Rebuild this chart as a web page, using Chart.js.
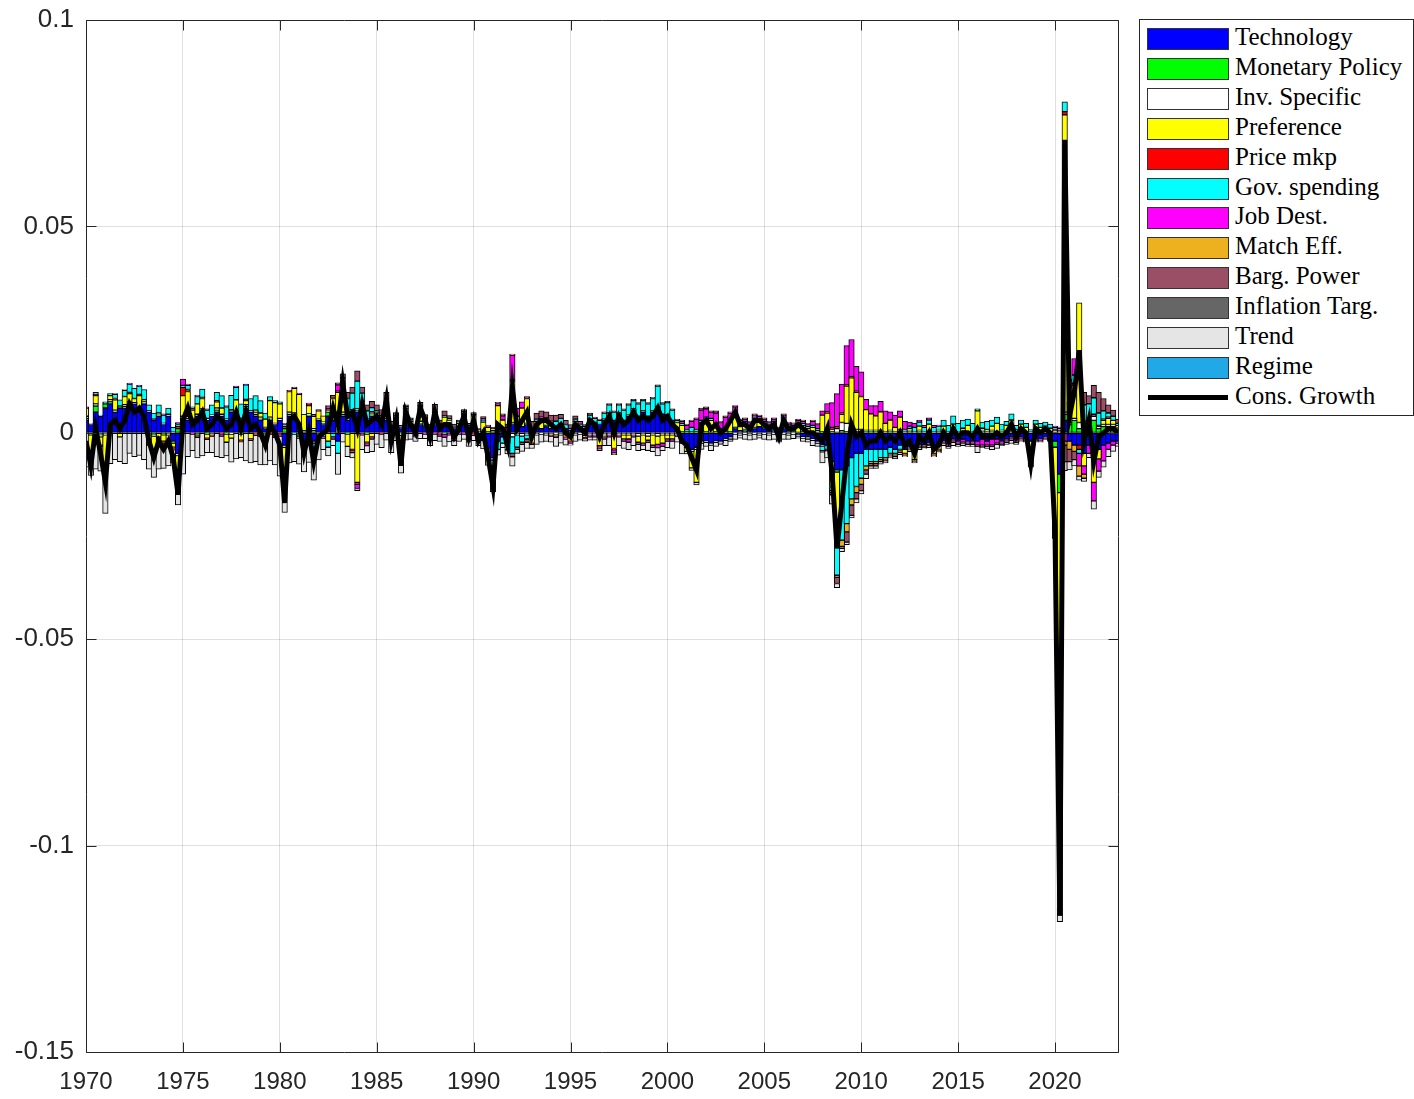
<!DOCTYPE html>
<html>
<head>
<meta charset="utf-8">
<title>Historical decomposition of consumption growth</title>
<script src="https://cdn.jsdelivr.net/npm/chart.js@4.4.1/dist/chart.umd.min.js"></script>
<style>
  html, body { margin: 0; padding: 0; background: #ffffff; }
  #wrap { position: relative; width: 1414px; height: 1099px; overflow: hidden; background: #ffffff; }
  #chart { position: absolute; left: 0; top: 0; }
  #legend {
    position: absolute; left: 1139px; top: 19px; width: 275px; height: 397px;
    box-sizing: border-box; border: 1px solid #262626; background: #ffffff;
    font-family: 'Liberation Serif', 'Times New Roman', serif; font-size: 25px; color: #000000;
  }
  #legend .sw { position: absolute; left: 7px; width: 82px; height: 22px; box-sizing: border-box; border: 1px solid #333333; }
  #legend .ln { position: absolute; left: 8px; width: 80px; height: 5px; background: #000000; }
  #legend .lbl { position: absolute; left: 95px; height: 30px; line-height: 30px; white-space: nowrap; }
</style>
</head>
<body>
<div id="wrap">
  <canvas id="chart" width="1414" height="1099"></canvas>
  <div id="legend"></div>
</div>
<script>
// Quarterly shock decomposition of consumption growth, 1970Q1 - 2023Q2.
// All contributions below are listed in thousandths (x 1e-3).
const FIRST_YEAR = 1970;
const PER_YEAR = 4;
const UNIT = 1e-3;

const consGrowth = [
  -2, -8, 1, -5,       // 1970
  -12, 2, 3, 1,
  3, 7, 5, 6,
  4, -2, -6, -2,
  -4, -2, -6, -15,
  3, 6, 2, 3,          // 1975
  5, 1, 2, 4,
  3, 1, 2, 5,
  1, 5, 1, 2,
  0, -3, 2, 0,
  -3, -17, 3, 4,       // 1980
  2, -5, 0, -7,
  -1, 0, 1, 6,
  2, 12, 4, 5,
  1, 7, 2, 3,
  4, 2, 8, -2,         // 1985
  3, -8, 5, 2,
  0, 6, 3, -1,
  5, 1, 2, 2,
  -1, 1, 4, -1,
  3, -2, 0, -6,        // 1990
  -13, 2, 1, -3,
  11, 1, 3, 5,
  -1, 2, 3, 3,
  2, 1, 2, 0,
  -1, 2, 1, 0,         // 1995
  3, 2, -1, 2,
  4, 0, 4, 2,
  3, 5, 3, 4,
  3, 4, 6, 3,
  4, 2, 1, -2,         // 2000
  -3, -6, -9, 2,
  3, 1, 2, 0,
  1, 3, 5, 2,
  2, 1, 3, 3,
  2, 1, 2, -1,         // 2005
  3, 1, 1, 2,
  1, 0, 0, -1,
  -2, 1, -10, -28,
  -17, -6, 2, -1,
  0, -3, -2, -2,       // 2010
  0, -2, -1, -2,
  0, -3, -2, -5,
  -1, -2, 0, -4,
  -3, 0, -2, 1,
  -1, 0, 0, -1,        // 2015
  1, -1, -1, -1,
  0, -1, 0, 2,
  -1, 1, 0, -7.5,
  1, 0, 1, 0,
  -24, -117, 71, 4,    // 2020
  10, 20, -2, 3,
  -7, -1, 0, 1,
  1, 0                 // 2023
];

const technology = [
  3, 2, 5, 4,          // 1970
  6, 7, 5, 6,
  6, 6.5, 7, 5,
  7, 5, 3, 4,
  2, 4, -2, -5,
  2, 3, 3.2, 4,        // 1975
  5, 3, 4, 5,
  4, 3, 5, 4,
  3, 6, 5, 4,
  3, 1, 3, 2,
  3, -3, 4, 4,         // 1980
  2, -4, 4, -2,
  3, 2, 4, 3,
  -2, 4, 3, 5,
  5, 6, 3, 4,
  3, 2, 3, 1,          // 1985
  2, 1, 2, 1.5,
  1, 2, 1.5, 1,
  2, 1, 2, 1.5,
  1, 1.5, 2, 1,
  1, -1, -1.5, -4,     // 1990
  -6, -2, -1, -1.5,
  2, 1, 1.5, 2,
  0.5, 1, 1, 1.5,
  1, 1, 1.5, 1,
  0.5, 1.5, 1, 1,      // 1995
  2, 2.5, 2, 3,
  3.5, 3, 4, 3,
  4, 5, 4, 5,
  4, 5, 6, 4.5,
  4, 3, 1, -2,         // 2000
  -3, -4, -3.5, -2,
  -2, -2.5, -2, -2,
  -1.5, -1, 1, 0.5,
  0.5, 0.5, 1, 1.5,
  1, 1, 0.5, 0.5,      // 2005
  1, 0.5, 0, -0.5,
  -1, -1, -1.5, -2,
  -3, -3, -7, -9,
  -9, -8, -6, -5,
  -5, -4, -4, -4,      // 2010
  -4, -4, -3.5, -4,
  -3, -4, -3.5, -4,
  -3, -3, -2.5, -3,
  -2.5, -2, -2, -1.5,
  -2, -1.5, -2, -2,    // 2015
  -2, -1.5, -2, -1.5,
  -1.5, -2, -1.5, -1,
  -1.5, -1, -1.5, -2,
  -1, -1.5, -1, -1.5,
  -2, -10, 3, -2,      // 2020
  -3, -3, -5, -3,
  -4, -4, -3, -2.5,
  -2, -2
];

const monetaryPolicy = [
  0.5, -0.5, 1.5, -0.5,  // 1970
  1, 0.5, 0, 0.5,
  0.3, 0.5, 0, 0.5,
  0, -0.5, -0.5, 0.3,
  -0.5, 0, -0.5, 1,
  1.5, 0.5, 0, -0.5,     // 1975
  0.3, -0.3, 0, 0.5,
  0, -0.3, 0.3, 0.5,
  -0.3, 0.3, 0, 0.5,
  0.3, -0.5, 0.3, -0.3,
  0, 1, 0.5, 0.3,        // 1980
  -0.5, 0.5, 0.3, 0.5,
  -0.5, 0.3, 1, 1,
  0.5, 0.5, -0.3, 0.3,
  0.3, 0.3, -0.3, 0.3,
  0.3, 0, 0.5, -0.3,     // 1985
  0.3, -0.3, 0.3, 0,
  -0.3, 0.3, 0, -0.3,
  0.3, 0, -0.3, 0.3,
  -0.3, 0, 0.3, -0.3,
  0.3, 0, 0.3, 0.3,      // 1990
  0.5, 0.3, 0.3, 0.3,
  0.5, 0.3, 0, 0.3,
  0, 0.3, 0, 0.3,
  0, 0.3, 0, -0.3,
  0, 0.3, 0, -0.3,       // 1995
  0.3, 0, -0.3, 0.3,
  0.3, 0, 0.3, 0,
  0.3, 0.3, 0, 0.3,
  0, 0.3, 0.3, 0,
  0.3, 0, 0, 0.3,        // 2000
  0.3, 0.3, 0.3, 0.5,
  0.3, 0, 0.3, 0,
  0.3, 0.3, 0.3, 0,
  0.3, 0, 0.3, 0,
  0.3, 0, 0.3, -0.3,     // 2005
  0.3, 0, 0.3, 0,
  0.3, 0, 0.3, 0,
  0.3, 0.3, 0.3, -0.5,
  0.5, 0.3, 0.3, 0.3,
  0.3, 0.3, 0.3, 0.3,    // 2010
  0.3, 0, 0.3, 0,
  0.3, 0, 0.3, 0,
  0.3, 0, 0.3, 0,
  0.3, 0.3, 0, 0.3,
  0, 0.3, 0, 0,          // 2015
  0, 0.3, 0, 0.3,
  0, 0.3, 0, 0.3,
  0, 0.3, 0, 0,
  0.3, 0, 0.3, 0,
  -1.5, -4.5, 1.5, 2,    // 2020
  3, 1, 2, 1,
  3, 1, 1.5, 1.5,
  1.5, 1
];

const invSpecific = [
  0.5, 0.3, 0.5, -0.5,   // 1970
  -0.5, 0.5, 0.5, 0,
  0.5, 0.5, 0.3, 0.5,
  0.5, 0.3, -0.3, 0.5,
  0.3, 0.5, 0.3, -0.5,
  0.5, 0.5, 0.3, 0.5,    // 1975
  0.5, 0.5, 0.3, 0.5,
  0.5, 0.3, -0.3, 0.5,
  0.5, 0.5, 0.3, 0.5,
  0.5, 0.3, 0.5, 0.3,
  0.5, -0.5, 0.5, 0.5,   // 1980
  0.3, 0, 0.3, 0.5,
  0.3, 0.3, 0.5, 0.3,
  0.3, 0.5, 0.3, 0.3,
  0.5, 0.3, 0.3, 0.5,
  0.5, 0.3, 0.5, 0.3,    // 1985
  0.3, -0.3, 0.5, 0.3,
  0.3, 0.5, 0.3, -0.3,
  0.3, 0.3, 0.3, 0.3,
  -0.3, 0.3, 0.3, 0.3,
  0.3, 0.3, 0.3, -0.3,   // 1990
  -0.3, 0.8, 0.3, -0.3,
  -1, -0.5, -0.8, -0.5,
  -0.5, -0.5, -0.3, -0.5,
  -0.5, -0.3, -0.5, -0.5,
  -0.5, -0.5, -0.3, -0.3, // 1995
  -0.5, -0.5, -0.8, -0.5,
  -0.5, -0.8, -0.5, -0.5,
  -0.5, -0.5, -0.8, -0.5,
  -0.8, -0.5, -0.8, -0.5,
  -0.5, -0.5, -0.5, -0.5, // 2000
  -0.5, -0.5, -0.5, -0.5,
  -0.3, -0.5, -0.3, -0.5,
  -0.3, -0.5, -0.3, -0.5,
  -0.3, -0.5, -0.3, -0.5,
  -0.3, -0.5, -0.3, -0.5, // 2005
  -0.3, -0.5, -0.3, -0.3,
  -0.3, -0.5, -0.3, -0.5,
  -0.3, 0.5, 0.5, 1,
  2, 2, 1, 0.5,
  0.5, 0.3, 0.3, 0.3,    // 2010
  0.3, 0.3, 0.3, 0.3,
  0.5, 0.3, 0.3, 0.3,
  0.3, 0.3, 0.3, 0.3,
  0.3, 0.3, 0.3, 0.3,
  0.3, 0.3, 0.3, 0.3,    // 2015
  0.3, 0.3, 0.3, 0.3,
  0.3, 0.3, 0.3, 0.3,
  0.3, 0.3, 0.3, 0.3,
  0.3, 0.3, 0.3, 0.3,
  0.5, 0.3, 0.5, 0.5,    // 2020
  0.5, 1.5, 0.5, 0.5,
  1, 0.5, 0.5, 0.5,
  0.5, 0.3
];

const preference = [
  2, -4, 2, -2,          // 1970
  -8, 1, 2.5, -1,
  2, 2, 1, 3,
  0.5, -2, -3.5, -1,
  -1.5, -0.5, -1, -4,
  5, 6, 2, 2.5,          // 1975
  2.5, -1, -0.5, 1.5,
  1.5, -2, -1, 3,
  -1.5, 1, -1.5, 0.5,
  1, 2, 4, 5,
  3.5, -6, 5, 6,         // 1980
  7, 4, 2, 3,
  2, 1.5, -2, 4,
  9, 5, -3, -4,
  -12, 1, -2, -1,
  1, 1, 3, -2,           // 1985
  1, -6, 3, 1,
  0, 3.5, 1.5, -1,
  2.5, 0.5, 1.5, 1,
  -0.5, 0.5, 2, -1,
  2.5, 0.5, 2, 1,        // 1990
  0.5, 5.5, 2.5, -0.5,
  10, 2.7, 4.5, 6,
  -2, 1.5, 1.5, 1,
  1, -0.5, 0.5, -0.1,
  -1.5, 1, 0.5, -0.5,    // 1995
  1, 0, -2, -0.5,
  1, -3, 0.5, -1,
  -1, 0.5, -1.5, -2,
  -1, -2.5, -2, -2,
  -1, -1, 1.5, 1.5,      // 2000
  -1, -4, -8, 2,
  3, 3, 1.5, 0.5,
  0.5, 2.5, 3, 1,
  1.5, 0.5, 2, 1.5,
  1, 0.5, 1.5, -1,       // 2005
  2, 1, 1, 2,
  1.5, 1, 1, 0.5,
  4, 4, -6, -17,
  2, 9, 12, 9,
  8, 5, 4, 3.5,          // 2010
  4.5, 2, 2.5, 1,
  3, -1, 0.5, -2.5,
  1, 0, 1.5, -2,
  -1.5, 1, -0.5, 1.5,
  0, 0.5, 1.5, 0,        // 2015
  5, 0.5, 0.5, 1,
  2, 0, 1.5, 2.5,
  0.5, 1.5, 1, -4.5,
  1.5, 1, 1, 0.8,
  -19, -101, 72, 5,      // 2020
  8, 29, -3, 1,
  -8, -2.3, 1, 1.5,
  1, 0.5
];

const priceMkp = [
  0, 0, 0.3, -0.3,       // 1970
  -0.3, 0, 0.3, 0,
  0, 0.3, 0, 0.3,
  0, -0.3, 0.3, -0.5,
  -0.5, 0, -0.3, 0.5,
  2, 0.5, 0.3, -0.3,     // 1975
  0.3, -0.3, 0, 0.3,
  -0.3, 0, 0.3, 0,
  -0.3, 0.3, 0, -0.3,
  -0.5, -0.5, -0.3, -0.5,
  -0.5, 0.5, 0.3, 0,     // 1980
  -0.3, 0, 0.3, -0.5,
  -0.3, 0, 0.3, 0.3,
  0.3, 0.3, 0, -0.3,
  -0.5, 0, -0.3, 0.3,
  0, -0.3, 0.3, -0.3,    // 1985
  0, -0.3, 0, 0,
  -0.3, 0, 0, 0,
  0, -0.3, 0, 0,
  -0.3, 0, 0, -0.3,
  -0.3, -0.3, -0.3, -0.5, // 1990
  -0.3, 0, 0, -0.3,
  0.3, 0, 0, 0,
  -0.3, 0, 0, 0,
  -0.3, 0, 0, -0.3,
  -0.3, 0, 0, 0,         // 1995
  0, 0, -0.3, 0,
  0, -0.3, 0, 0,
  0, 0, 0, 0,
  0, 0, 0, 0,
  0, 0, 0, 0,            // 2000
  0, 0, 0, 0,
  0, 0, 0, 0,
  0, 0, 0, 0,
  0, 0, 0, 0,
  0, 0, 0, 0,            // 2005
  0, 0, 0, 0,
  0, 0, 0, 0,
  0, 0.3, 0.5, 0.5,
  0.3, 0.3, 0.3, 0.3,
  0, 0, 0, 0,            // 2010
  0, 0, 0, 0,
  0, 0, 0, 0,
  0, 0, 0, 0,
  0, 0, 0, 0,
  0, 0, 0, 0,            // 2015
  0, 0, 0, 0,
  0, 0, 0, 0,
  0, 0, 0, 0,
  0, 0, 0, 0,
  0.3, 0.3, 0.8, 0.5,    // 2020
  0.5, -1, 0.3, 0.5,
  0.5, 0.3, 0.3, 0.3,
  0, 0
];

const govSpending = [
  0, -0.3, 0.5, 0.3,     // 1970
  0.5, 0.5, 1, 1.5,
  1.5, 2, 2.5, 2,
  2.5, 1.5, 1.5, 2,
  2, 1.5, 1, 0.5,
  0.5, 1, 0.5, 1.8,      // 1975
  2, 2, 2.5, 2,
  3, 3, 3.5, 3,
  3.5, 3.5, 3, 3.5,
  3, 1.5, 1, 0.5,
  0.5, 0.5, -0.5, -0.3,  // 1980
  -0.5, -1, -0.5, -1,
  -0.5, -1, -1.5, -1,
  -3, 2, 5, 4,
  6.7, 2, 2, 1,
  0.5, 0.5, 1, 0.5,      // 1985
  0.5, 0.3, 0.5, 0.3,
  0.3, 0.3, 0.3, 0.3,
  0.3, 0.3, 0.3, 0.3,
  0.3, 0.3, 0.5, 0.5,
  0.3, -0.3, 0.5, -1.5,  // 1990
  -5, -2, -1.5, -1.5,
  -4, -3, -1.5, -1,
  0.5, 0.5, 1, 0.5,
  0.5, 1.5, 1.5, 1,
  0.5, 0.5, 0.5, 0.5,    // 1995
  1, 1, 1, 1.5,
  2, 2, 2, 2.5,
  2.5, 2, 3, 2.5,
  3, 3, 5, 2.5,
  3, 2.5, 0.5, 0.5,      // 2000
  0.5, 1, 0.5, 0.5,
  0.5, 0.5, 0.5, 0.5,
  0.5, 0.5, 0.5, 0.5,
  0.5, 0.5, 0.5, 0.5,
  0.5, 0.5, 0.5, 0.5,    // 2005
  0.5, 0.5, 0.5, 0.5,
  0.5, 0.5, 0.5, 0.5,
  -1, -1, -1, -8,
  -17, -14, -10, -8,
  -6, -4, -3, -3,        // 2010
  -2, -2, -1.5, -1,
  -1, 0.5, 0.5, 1,
  1, 1, 1, 1,
  1, 1.5, 1.5, 2,
  2, 2, 1.5, 2,          // 2015
  0.5, 1.5, 2, 1.5,
  1.5, 1.5, 1, 1.5,
  1, 1, 1, 0.5,
  1, 1, 1, 1,
  0.5, 0.5, 2.4, 3,      // 2020
  2, -1, 4, 4,
  4, 3, 2, 1,
  1, 0.5
];

const jobDest = [
  0.3, 0, 0, 0,          // 1970
  -0.3, 0, 0.2, 0,
  0, 0.2, 0, 0.2,
  0, -0.2, 0, 0,
  0.3, 0, -0.3, 0.5,
  1.5, 0.3, -0.3, 0.3,   // 1975
  0, 0.3, -0.3, 0,
  -0.5, 0.3, 0, 0.3,
  0, 0.2, -0.3, 0,
  -0.3, -0.5, 0, -0.3,
  -0.3, 0.3, 0, 0.2,     // 1980
  0.3, 0, 0.3, 0.5,
  0.3, -0.3, 0.5, -0.5,
  1.5, 1, 0, -0.5,
  -1, -0.5, -0.5, -0.5,
  0, 0.3, 0, 0,          // 1985
  0, -0.3, 0, 0,
  -0.3, 0, -0.3, -0.3,
  -0.3, -0.5, -0.8, -0.5,
  -0.5, -0.3, -0.3, -0.5,
  -0.3, -0.3, 0.3, 0.3,  // 1990
  0.3, 0.5, 1, 1,
  6, 2, 1.5, 0.5,
  0.3, 0, 0.3, 0.3,
  0.3, -0.3, 0, -0.3,
  -0.3, 0, 0.3, -0.3,    // 1995
  -0.5, -0.5, -0.5, -0.5,
  -0.5, -0.8, -0.5, -0.5,
  -0.8, -0.5, -0.5, -0.5,
  -0.5, -0.5, -0.8, -0.8,
  -0.5, -0.5, -0.3, 0.5, // 2000
  1, 1.5, 2.5, 2.5,
  2, 1.5, 2.5, 1.5,
  2.5, 1.5, 1.5, 1,
  0.5, 1, 0.5, 0.5,
  0.5, 0.5, 0.5, -0.3,   // 2005
  0.5, 0.3, 0.3, 0.5,
  0.5, 0.5, 1, 1,
  1, 2, 6, 8,
  7, 9.5, 9, 6,
  6, 2.5, 2, 2.5,        // 2010
  2.5, 3, 2, 3,
  1.5, 2, 1, 1,
  0.5, 0.5, 0.5, 0.5,
  0.3, -0.3, -0.5, -0.5,
  -0.5, -0.8, -0.5, -0.5, // 2015
  -1, -1.5, -1, -1.5,
  -1, -0.5, -0.5, -0.5,
  -0.5, -0.5, -0.3, -1,
  -0.5, -0.3, -0.3, -0.3,
  0.3, 0.3, -2, 2,       // 2020
  4, -3, -2, -2,
  -4.5, -3, -3.8, -1.5,
  -1, -0.5
];

const matchEff = [
  0, 0, 0, 0,            // 1970
  0, 0, 0, 0,
  0.2, 0, 0, 0,
  0, 0, 0, 0,
  0, 0, 0, 0,
  0, 0, 0, 0,            // 1975
  0, 0, 0, 0,
  0, 0, 0, 0,
  0, 0, 0, 0,
  0, 0, 0, 0,
  0, 0, 0, 0,            // 1980
  0, 0, 0, 0,
  0, 0, 0, 0,
  0, 0, 0, 0,
  0, 0, 0, 0,
  0, 0, 0, 0,            // 1985
  0, 0, 0, 0,
  0, 0, 0, 0,
  0, 0, 0, 0,
  0, 0, 0, 0,
  0, 0, 0, 0,            // 1990
  0, 0, 0, 0,
  0.3, 0, 0, 0,
  0, 0, 0, 0,
  0, 0, 0, 0,
  0, 0, 0, 0,            // 1995
  0, 0, 0, 0,
  0, 0, 0, 0,
  0, 0, 0, 0,
  0, 0, 0, 0,
  0, 0, 0, 0,            // 2000
  0, 0, 0, 0,
  0, 0, 0, 0,
  0, 0, 0, 0,
  0, 0, 0, 0,
  0, 0, 0, 0,            // 2005
  0, 0, 0, 0,
  0, 0, 0, 0,
  0, 0, -0.5, -0.5,
  -1.5, -2, -1.5, -1.5,
  -1.5, -1, -0.5, -0.5,  // 2010
  -0.5, -0.3, -0.3, -0.3,
  -0.3, -0.3, -0.3, -0.3,
  -0.3, -0.3, -0.3, -0.3,
  -0.3, 0, 0, 0,
  0, 0, 0, 0,            // 2015
  0, 0, 0, 0,
  0, 0, 0, 0,
  0, 0, 0, 0,
  0, 0, 0, 0,
  0, 0, -1, -2,          // 2020
  -1.5, -2.5, -1, 0,
  0, 0, 0, 0,
  0, 0
];

const bargPower = [
  0, -0.3, 0, 0,         // 1970
  -0.2, 0, 0, 0,
  0, 0, 0, 0,
  0, 0, 0, -0.3,
  0, 0, 0, -0.3,
  0, 0, 0, -0.3,         // 1975
  0, 0, 0, 0,
  0, 0, 0, 0,
  0, 0, 0, -0.3,
  0, -0.3, 0, 0,
  0, -0.3, 0, 0,         // 1980
  0, 0, 0, -0.3,
  0, 0, 0.3, 0.5,
  0.5, 1, 1.5, 1.5,
  2.5, 1.5, 1.5, 1.5,
  1.5, 1.5, 1.5, 1,      // 1985
  0.8, 0.5, 0.5, 0.5,
  0.5, 0.8, 0.8, 0.8,
  1.5, 1, 1.2, 0.8,
  0.8, 0.5, 0.5, 0.5,
  0.5, 0.3, 0.5, 0.3,    // 1990
  -0.3, 0.3, 0.5, 0.8,
  -0.8, -0.5, -0.5, -0.8,
  1.5, 1.5, 1.5, 1.5,
  1.5, 1.5, 1, 1,
  1, 0.8, 0.5, 0.5,      // 1995
  0.5, 0.3, 0.3, 0.3,
  0.3, 0.3, 0.3, 0.3,
  0.3, 0.3, 0.3, 0.3,
  0.3, 0.3, 0.3, 0.3,
  0.3, 0.3, 0.3, 0.3,    // 2000
  0.3, 0.3, 0.3, 0.5,
  0.5, 0.3, 0.5, 0.3,
  0.3, 0.3, 0.3, 0.3,
  0.3, 0.3, 0.3, 0.3,
  0.3, 0.3, 0.3, 0.3,    // 2005
  0.3, 0.3, 0.3, 0.3,
  0.3, 0.3, 0.3, 0.3,
  -0.3, -0.3, -0.5, -1.5,
  -0.5, -2.5, -2.5, -1.5,
  -1.5, -1, -0.5, -0.5,  // 2010
  -0.5, -0.5, -0.3, -0.5,
  -0.5, -0.3, -0.3, -0.3,
  -0.3, -0.3, -0.3, -0.3,
  -0.3, -0.3, -0.3, -0.3,
  -0.3, -0.3, -0.3, -0.3, // 2015
  -0.3, -0.3, -0.3, -0.3,
  -0.3, -0.3, -0.3, -0.3,
  -0.3, -0.3, -0.3, -0.3,
  -0.3, -0.3, -0.3, -0.3,
  -1, -1.3, -4, -3,      // 2020
  -2, 0, 3, 2,
  3, 5, 3, 2,
  1.5, 1
];

const inflationTarg = [
  0, 0, 0, 0,   0, 0, 0, 0,   0, 0, 0, 0,   0, 0, 0, 0,   0, 0, 0, 0,    // 1970-74
  0, 0, 0, 0,   0, 0, 0, 0,   0, 0, 0, 0,   0, 0, 0, 0,   0, 0, 0, 0,    // 1975-79
  0, 0, 0, 0,   0, 0, 0, 0,   0, 0, 0, 0,   0, 0, 0, 0,   0, 0, 0, 0,    // 1980-84
  0, 0, 0, 0,   0, 0, 0, 0,   0, 0, 0, 0,   0, 0, 0, 0,   0, 0, 0, 0,    // 1985-89
  0, 0, 0, 0,   0, 0, 0, 0,   0, 0, 0, 0,   0, 0, 0, 0,   0, 0, 0, 0,    // 1990-94
  0, 0, 0, 0,   0, 0, 0, 0,   0, 0, 0, 0,   0, 0, 0, 0,   0, 0, 0, 0,    // 1995-99
  0, 0, 0, 0,   0, 0, 0, 0,   0, 0, 0, 0,   0, 0, 0, 0,   0, 0, 0, 0,    // 2000-04
  0, 0, 0, 0,   0, 0, 0, 0,   0, 0, 0, 0,   0, 0, 0, 0,   0, 0, 0, 0,    // 2005-09
  0, 0, 0, 0,   0, 0, 0, 0,   0, 0, 0, 0,   0, 0, 0, 0,   0, 0, 0, 0,    // 2010-14
  0, 0, 0, 0,   0, 0, 0, 0,   0, 0, 0, 0,   0, 0, 0, 0,   0, 0, 0, 0,    // 2015-19
  0, 0, 0, 0,   0, 0, 0, 0,   0, 0, 0, 0,   0, 0                         // 2020-23
];

const trend = [
  -8.3, -5.2, -8.8, -6,  // 1970
  -10.2, -7.5, -6.5, -6,
  -7.5, -5, -5.8, -5.5,
  -6.5, -5.8, -6.5, -7,
  -6.1, -7.5, -3.2, -7.7,
  -10, -5.8, -4, -5,     // 1975
  -5.6, -3.2, -4, -5.8,
  -5.2, -3.3, -5.8, -6.3,
  -3.9, -6.8, -5.5, -6.4,
  -7, -6, -6.5, -6.7,
  -9.7, -9.5, -6.8, -6.7, // 1980
  -6.3, -4.5, -6.7, -7.7,
  -5.3, -2.8, -2.1, -1.6,
  -5.1, -2.3, -2.5, -1.3,
  -0.5, -3.6, -1.7, -3.1,
  -2.8, -3.3, -1.8, -2.2, // 1985
  -1.9, -2.6, -1.8, -1.6,
  -1.2, -1.4, -1.1, -1.2,
  -1.6, -1.3, -2.2, -1.7,
  -1.2, -1.8, -1.3, -1.2,
  -1.3, -1.2, -2.1, -1.6, // 1990
  -2.4, -1.4, -1.1, -1,
  -2.3, -1, -1.7, -1.5,
  -1, -2.3, -2, -1.6,
  -1.5, -2.2, -2, -1.5,
  -0.4, -1.6, -1.5, -0.6, // 1995
  -0.8, -0.8, -0.4, -1.6,
  -2.1, -0.4, -2.1, -1.8,
  -1.8, -2.1, -1.5, -1.1,
  -2, -1.1, -2, -1,
  -1.6, -1.8, -1.5, -2.6, // 2000
  -0.6, -0.6, -0.6, -1.5,
  -1, -1.3, -1, -0.3,
  -1.3, -0.6, -1.3, -0.8,
  -1.3, -1.3, -1.3, -0.8,
  -1.3, -1.3, -1.3, -0.2, // 2005
  -1.3, -1.1, -1.1, -0.5,
  -0.8, -0.8, -1.3, -0.8,
  -2.7, -1.8, -2.3, -1,
  -0.8, -0.6, -0.6, -1,
  -0.8, -1.1, -0.6, -0.6, // 2010
  -0.6, -0.5, -0.5, -0.5,
  -0.5, -0.2, -0.5, -0.2,
  -0.5, -0.2, -0.5, -0.2,
  -0.3, -0.5, -0.5, -0.8,
  -0.5, -0.5, -0.5, -0.5, // 2015
  -1.5, -0.3, -0.5, -0.8,
  -1, -0.3, -0.5, -0.8,
  -0.5, -0.3, -0.2, -0.5,
  -0.3, -0.2, 0, 0,
  -2.1, -1.6, -2.2, -2,   // 2020
  -1.5, -1, -0.8, -1,
  -2, -1.5, -1.5, -1.8,
  -1.5, -0.8
];

const regime = [
  0, 0, 0, 0,   0, 0, 0, 0,   0, 0, 0, 0,   0, 0, 0, 0,   0, 0, 0, 0,    // 1970-74
  0, 0, 0, 0,   0, 0, 0, 0,   0, 0, 0, 0,   0, 0, 0, 0,   0, 0, 0, 0,    // 1975-79
  0, 0, 0, 0,   0, 0, 0, 0,   0, 0, 0, 0,   0, 0, 0, 0,   0, 0, 0, 0,    // 1980-84
  0, 0, 0, 0,   0, 0, 0, 0,   0, 0, 0, 0,   0, 0, 0, 0,   0, 0, 0, 0,    // 1985-89
  0, 0, 0, 0,   0, 0, 0, 0,   0, 0, 0, 0,   0, 0, 0, 0,   0, 0, 0, 0,    // 1990-94
  0, 0, 0, 0,   0, 0, 0, 0,   0, 0, 0, 0,   0, 0, 0, 0,   0, 0, 0, 0,    // 1995-99
  0, 0, 0, 0,   0, 0, 0, 0,   0, 0, 0, 0,   0, 0, 0, 0,   0, 0, 0, 0,    // 2000-04
  0, 0, 0, 0,   0, 0, 0, 0,   0, 0, 0, 0,   0, 0, 0, 0,   0, 0, 0, 0,    // 2005-09
  0, 0, 0, 0,   0, 0, 0, 0,   0, 0, 0, 0,   0, 0, 0, 0,   0, 0, 0, 0,    // 2010-14
  0, 0, 0, 0,   0, 0, 0, 0,   0, 0, 0, 0,   0, 0, 0, 0,   0, 0, 0, 0,    // 2015-19
  0, 0, 0, 0,   0, 0, 0, 0,   0, 0, 0, 0,   0, 0                         // 2020-23
];

// Axis ticks
const xTicks = [1970, 1975, 1980, 1985, 1990, 1995, 2000, 2005, 2010, 2015, 2020];
const xTickLabels = ['1970', '1975', '1980', '1985', '1990', '1995', '2000', '2005', '2010', '2015', '2020'];
const yTicks = [-0.15, -0.1, -0.05, 0, 0.05, 0.1];
const yTickLabels = ['-0.15', '-0.1', '-0.05', '0', '0.05', '0.1'];

// Shock names (stacking order) and the line label
const shockNames = ['Technology', 'Monetary Policy', 'Inv. Specific', 'Preference', 'Price mkp',
  'Gov. spending', 'Job Dest.', 'Match Eff.', 'Barg. Power', 'Inflation Targ.', 'Trend', 'Regime'];
const lineName = 'Cons. Growth';
const shockSeries = [technology, monetaryPolicy, invSpecific, preference, priceMkp,
  govSpending, jobDest, matchEff, bargPower, inflationTarg, trend, regime];

// Styling
const shockColors = ['#0000ff', '#00ff00', '#ffffff', '#ffff00', '#ff0000', '#00ffff',
  '#ff00ff', '#edb120', '#9b4f66', '#666666', '#e5e5e5', '#20a9e6'];
const AXIS_COLOR = '#262626';
const GRID_COLOR = 'rgba(38,38,38,0.15)';
const TICK_LEN = 10;

// Quarter dates: year + (quarter-1)/4
const quarterDates = consGrowth.map((_, i) => FIRST_YEAR + i / PER_YEAR);
const asPoints = arr => arr.map((v, i) => ({ x: quarterDates[i], y: v * UNIT }));

const datasets = shockSeries.map((arr, k) => ({
  type: 'bar',
  label: shockNames[k],
  data: asPoints(arr),
  backgroundColor: shockColors[k],
  borderColor: '#000000',
  borderWidth: 1,
  borderSkipped: false,
  barThickness: 5.5,
  order: 1,
  clip: 0
}));
datasets.push({
  type: 'line',
  label: lineName,
  data: asPoints(consGrowth),
  borderColor: '#000000',
  borderWidth: 5,
  pointRadius: 0,
  tension: 0,
  fill: false,
  order: 0,
  stack: 'line',
  clip: 0
});

// Axes box with inward ticks on all four sides
const axesFrame = {
  id: 'axesFrame',
  afterDraw(chart) {
    const { ctx, chartArea: a, scales } = chart;
    const L = Math.round(a.left) + 0.5, R = Math.round(a.right) + 0.5;
    const T = Math.round(a.top) + 0.5, B = Math.round(a.bottom) + 0.5;
    ctx.save();
    ctx.strokeStyle = AXIS_COLOR;
    ctx.lineWidth = 1;
    ctx.beginPath();
    ctx.rect(L, T, R - L, B - T);
    scales.x.ticks.forEach(t => {
      const px = Math.round(scales.x.getPixelForValue(t.value)) + 0.5;
      ctx.moveTo(px, B); ctx.lineTo(px, B - TICK_LEN);
      ctx.moveTo(px, T); ctx.lineTo(px, T + TICK_LEN);
    });
    scales.y.ticks.forEach(t => {
      const py = Math.round(scales.y.getPixelForValue(t.value)) + 0.5;
      ctx.moveTo(L, py); ctx.lineTo(L + TICK_LEN, py);
      ctx.moveTo(R, py); ctx.lineTo(R - TICK_LEN, py);
    });
    ctx.stroke();
    ctx.restore();
  }
};

const FONT_FAMILY = "'Liberation Sans', Arial, Helvetica, sans-serif";

new Chart(document.getElementById('chart'), {
  data: { datasets },
  options: {
    responsive: false,
    devicePixelRatio: 1,
    animation: false,
    events: [],
    layout: { padding: { left: 0, top: 20, right: 296, bottom: 0 } },
    plugins: { legend: { display: false }, tooltip: { enabled: false } },
    scales: {
      x: {
        type: 'linear',
        min: 1970,
        max: 2023.25,
        offset: false,
        stacked: true,
        grid: { color: GRID_COLOR, lineWidth: 1, drawTicks: false, offset: false },
        border: { display: false },
        afterBuildTicks: s => { s.ticks = xTicks.map(v => ({ value: v })); },
        afterFit: s => { s.height = 47; s.paddingLeft = 0; s.paddingRight = 0; },
        ticks: {
          autoSkip: false, maxRotation: 0, padding: 16,
          color: AXIS_COLOR, font: { family: FONT_FAMILY, size: 24 },
          callback: (v, i) => xTickLabels[i]
        }
      },
      y: {
        type: 'linear',
        min: -0.15,
        max: 0.1,
        stacked: true,
        grid: { color: GRID_COLOR, lineWidth: 1, drawTicks: false },
        border: { display: false },
        afterBuildTicks: s => { s.ticks = yTicks.map(v => ({ value: v })); },
        afterFit: s => { s.width = 86; s.paddingTop = 0; s.paddingBottom = 0; },
        ticks: {
          autoSkip: false, padding: 12,
          color: AXIS_COLOR, font: { family: FONT_FAMILY, size: 26 },
          callback: (v, i) => yTickLabels[i]
        }
      }
    }
  },
  plugins: [axesFrame]
});

// Legend: swatches and names, one row per series
const legend = document.getElementById('legend');
const ROW = 29.9;
shockNames.forEach((name, i) => {
  const sw = document.createElement('div');
  sw.className = 'sw';
  sw.style.top = (8 + ROW * i) + 'px';
  sw.style.background = shockColors[i];
  legend.appendChild(sw);
  const lb = document.createElement('div');
  lb.className = 'lbl';
  lb.style.top = (2 + ROW * i) + 'px';
  lb.textContent = name;
  legend.appendChild(lb);
});
const ln = document.createElement('div');
ln.className = 'ln';
ln.style.top = (16.6 + ROW * shockNames.length) + 'px';
legend.appendChild(ln);
const lnLabel = document.createElement('div');
lnLabel.className = 'lbl';
lnLabel.style.top = (2 + ROW * shockNames.length) + 'px';
lnLabel.textContent = lineName;
legend.appendChild(lnLabel);
</script>
</body>
</html>
